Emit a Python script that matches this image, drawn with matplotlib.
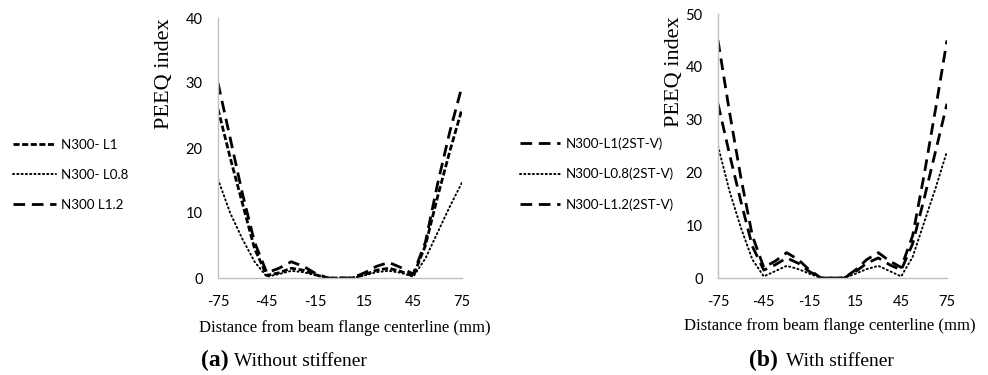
import matplotlib
matplotlib.use("Agg")
import matplotlib.pyplot as plt

# ---- data ----
x_pos = [-75, -67.5, -60, -52.5, -45, -37.5, -30, -22.5, -15, -7.5, 0,
         7.5, 15, 22.5, 30, 37.5, 45, 52.5, 60, 67.5, 75]

# (a) Without stiffener
a_L1 = [26, 18.5, 11.5, 4.5, 0.4, 0.8, 1.5, 1.2, 0.5, 0, 0,
        0, 0.5, 1.2, 1.5, 1.0, 0.3, 5, 12.5, 19.5, 26]
a_L08 = [15.2, 10, 6, 2.5, 0.2, 0.6, 1.1, 0.9, 0.4, 0, 0,
         0, 0.4, 0.9, 1.1, 0.8, 0.2, 3, 7, 11, 14.7]
a_L12 = [30, 21.5, 13, 5.5, 0.8, 1.5, 2.5, 1.8, 0.7, 0, 0,
         0, 0.8, 1.8, 2.4, 1.6, 0.6, 5.5, 14.5, 22.5, 29.5]

# (b) With stiffener
b_L1 = [33, 23.5, 14.5, 6, 1.5, 2.5, 3.8, 2.8, 1.2, 0, 0,
        0, 1.2, 2.8, 3.8, 2.5, 1.5, 6.5, 15, 24, 33]
b_L08 = [25, 16.5, 9.5, 3.5, 0.3, 1.3, 2.3, 1.7, 0.8, 0, 0,
         0, 0.8, 1.7, 2.3, 1.3, 0.3, 4, 10.5, 17, 24]
b_L12 = [45, 31.5, 19, 8, 2, 3.2, 4.8, 3.5, 1.5, 0, 0,
         0, 1.5, 3.5, 4.8, 3.2, 2, 8, 19.5, 32, 45]

x_ticks = [-75, -45, -15, 15, 45, 75]
a_yticks = [0, 10, 20, 30, 40]
b_yticks = [0, 10, 20, 30, 40, 50]

a_labels = ["N300- L1", "N300- L0.8", "N300 L1.2"]
b_labels = ["N300-L1(2ST-V)", "N300-L0.8(2ST-V)", "N300-L1.2(2ST-V)"]

# ---- styles ----
W, H = 988, 375
tick_font = "Lato"
serif = "Liberation Serif"
short_dash = (2.2, 0.9)
long_dash = (4.2, 2.4)
dot = (0.6, 1.6)
LW = 2.0
DLW = 1.4

fig = plt.figure(figsize=(W / 100, H / 100), dpi=100)

def fx(px):
    return px / W

def fy(py):
    return (H - py) / H

ax1 = fig.add_axes([fx(218), fy(278), fx(462) - fx(218), fy(18) - fy(278)])
ax2 = fig.add_axes([fx(718), fy(278), fx(947) - fx(718), fy(14) - fy(278)])

def style_ax(ax, yticks):
    for s in ["top", "right"]:
        ax.spines[s].set_visible(False)
    for s in ["left", "bottom"]:
        ax.spines[s].set_color("#c0c0c0")
        ax.spines[s].set_linewidth(1.0)
    ax.set_xlim(-75, 75)
    ax.set_ylim(0, yticks[-1])
    ax.set_xticks(x_ticks)
    ax.set_xticklabels([str(t) for t in x_ticks])
    ax.set_yticks(yticks)
    ax.tick_params(length=0, labelsize=10.5, colors="black")
    ax.tick_params(axis="y", pad=11)
    ax.tick_params(axis="x", pad=12)
    for lab in ax.get_xticklabels() + ax.get_yticklabels():
        lab.set_fontfamily(tick_font)
    ax.patch.set_alpha(0)

# panel (a)
h1, = ax1.plot(x_pos, a_L1, color="black", lw=LW, dashes=short_dash, label=a_labels[0])
h2, = ax1.plot(x_pos, a_L08, color="black", lw=DLW, dashes=dot, dash_capstyle="round", label=a_labels[1])
h3, = ax1.plot(x_pos, a_L12, color="black", lw=LW, dashes=long_dash, label=a_labels[2])
style_ax(ax1, a_yticks)

# panel (b)
g1, = ax2.plot(x_pos, b_L1, color="black", lw=LW, dashes=long_dash, label=b_labels[0])
g2, = ax2.plot(x_pos, b_L08, color="black", lw=DLW, dashes=dot, dash_capstyle="round", label=b_labels[1])
g3, = ax2.plot(x_pos, b_L12, color="black", lw=LW, dashes=long_dash, label=b_labels[2])
style_ax(ax2, b_yticks)

leg_kw = dict(frameon=False, handletextpad=0.4, labelspacing=1.35,
              borderaxespad=0, borderpad=0, loc="center left",
              prop={"family": "Lato", "size": 9.6})
fig.legend([h1, h2, h3], a_labels, bbox_to_anchor=(fx(13), fy(175)),
           handlelength=3.2, **leg_kw)
fig.legend([g1, g2, g3], b_labels, bbox_to_anchor=(fx(520), fy(174)),
           handlelength=3.0, **leg_kw)

# axis titles
fig.text(fx(164), fy(74), "PEEQ index", rotation=90, ha="center", va="center",
         family=serif, fontsize=16)
fig.text(fx(674), fy(72), "PEEQ index", rotation=90, ha="center", va="center",
         family=serif, fontsize=16)
fig.text(fx(345), fy(328), "Distance from beam flange centerline (mm)", ha="center",
         va="center", family=serif, fontsize=12)
fig.text(fx(830), fy(326), "Distance from beam flange centerline (mm)", ha="center",
         va="center", family=serif, fontsize=12)

# captions
fig.text(fx(229), fy(366), "(a)", ha="right", va="baseline", family=serif,
         fontsize=17, fontweight="bold")
fig.text(fx(234), fy(366), "Without stiffener", ha="left", va="baseline",
         family=serif, fontsize=14)
fig.text(fx(778), fy(366), "(b)", ha="right", va="baseline", family=serif,
         fontsize=17, fontweight="bold")
fig.text(fx(786), fy(366), "With stiffener", ha="left", va="baseline",
         family=serif, fontsize=14)

fig.savefig("out.png", dpi=100, facecolor="white")
